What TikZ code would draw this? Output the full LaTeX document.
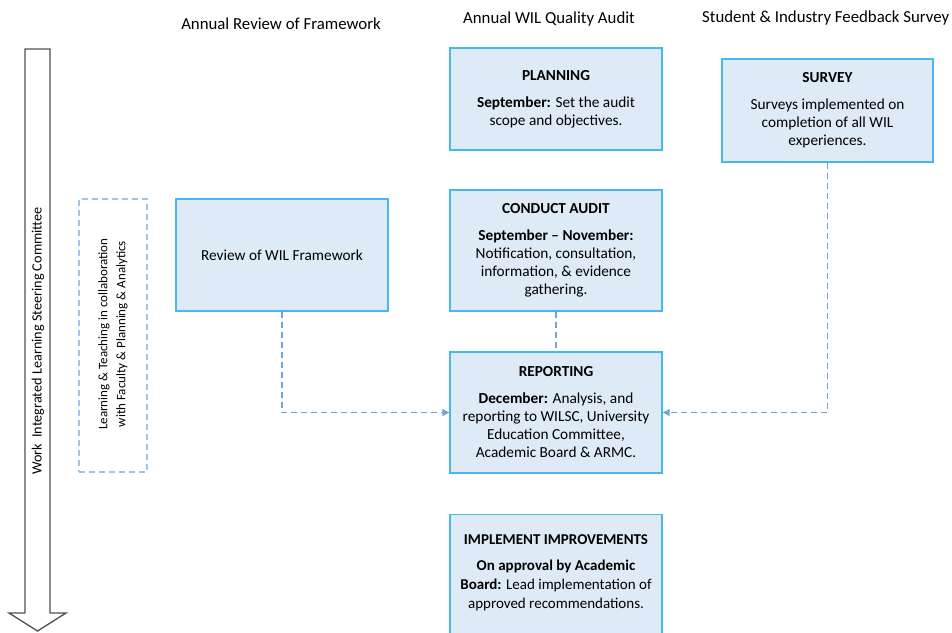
\documentclass[tikz,border=0pt]{standalone}
\usepackage{fontspec}
\setmainfont{Carlito}
\usetikzlibrary{arrows.meta}
\definecolor{boxfill}{RGB}{222,234,246}
\definecolor{boxline}{RGB}{70,184,236}
\definecolor{conn}{RGB}{110,165,218}
\definecolor{dashbox}{RGB}{160,196,232}
\definecolor{arrowgray}{RGB}{80,80,80}
\tikzset{
  stagebox/.style={draw=boxline, fill=boxfill, line width=1.4pt, rectangle, minimum width=212pt, align=center, inner sep=0pt, font=\fontsize{15.3}{18}\selectfont},
  heading/.style={font=\fontsize{16.8}{19}\selectfont, inner sep=0pt},
  conn/.style={draw=conn, line width=1.3pt, dash pattern=on 6pt off 4pt},
  connarrow/.style={conn, -{Triangle[length=7pt,width=7pt]}},
}
\begin{document}
\begin{tikzpicture}[x=1pt,y=-1pt]
\useasboundingbox (0,0) rectangle (952,632);
% headings
\node[heading] (h1) at (281,24) {Annual Review of Framework};
\node[heading] (h2) at (549,19) {Annual WIL Quality Audit};
\node[heading, anchor=west] (h3) at (702,18) {Student \& Industry Feedback Survey};
% big arrow
\draw[arrowgray, line width=1.3pt, fill=white] (25,49) -- (50,49) -- (50,613) -- (66,613) -- (37.5,631) -- (9,613) -- (25,613) -- cycle;
\node[rotate=90, font=\fontsize{14.2}{16}\selectfont, inner sep=0pt] (wilsc) at (38,341) {Work\ \ Integrated Learning Steering Committee};
% dashed box
\node[draw=dashbox, line width=1.2pt, dash pattern=on 6pt off 4pt, minimum width=68pt, minimum height=273pt, inner sep=0pt] (lt) at (113,335.5) {};
\node[rotate=90, align=center, font=\fontsize{13}{18}\selectfont, inner sep=0pt] (lttext) at (113,334) {Learning \& Teaching in collaboration\\with Faculty \& Planning \& Analytics};
% boxes
\node[stagebox, minimum height=112pt] (review) at (282,255) {Review of WIL Framework};
\node[stagebox, minimum height=102pt] (planning) at (556,99) {\textbf{PLANNING}\\[9pt]\textbf{September:} Set the audit\\scope and objectives.};
\node[stagebox, minimum width=211pt, minimum height=103pt] (survey) at (827.5,110.5) {\textbf{SURVEY}\\[9pt]Surveys implemented on\\completion of all WIL\\experiences.};
\node[stagebox, minimum height=121pt] (conduct) at (556,250.5) {\textbf{CONDUCT AUDIT}\\[9pt]\textbf{September – November:}\\Notification, consultation,\\information, \& evidence\\gathering.};
\node[stagebox, minimum height=121pt] (reporting) at (556,412.5) {\textbf{REPORTING}\\[9pt]\textbf{December:} Analysis, and\\reporting to WILSC, University\\Education Committee,\\Academic Board \& ARMC.};
\node[stagebox, minimum height=130pt, anchor=north] (implement) at (556,514) {};
\node[align=center, inner sep=0pt, font=\fontsize{15}{19}\selectfont] (impltext) at (556,573) {\textbf{IMPLEMENT IMPROVEMENTS}\\[7pt]\textbf{On approval by Academic}\\\textbf{Board:} Lead implementation of\\approved recommendations.};
% connectors
\draw[connarrow] (review.south) |- (reporting.west);
\draw[conn] (conduct.south) -- (reporting.north);
\draw[connarrow] (survey.south) |- (reporting.east);
\end{tikzpicture}
\end{document}
